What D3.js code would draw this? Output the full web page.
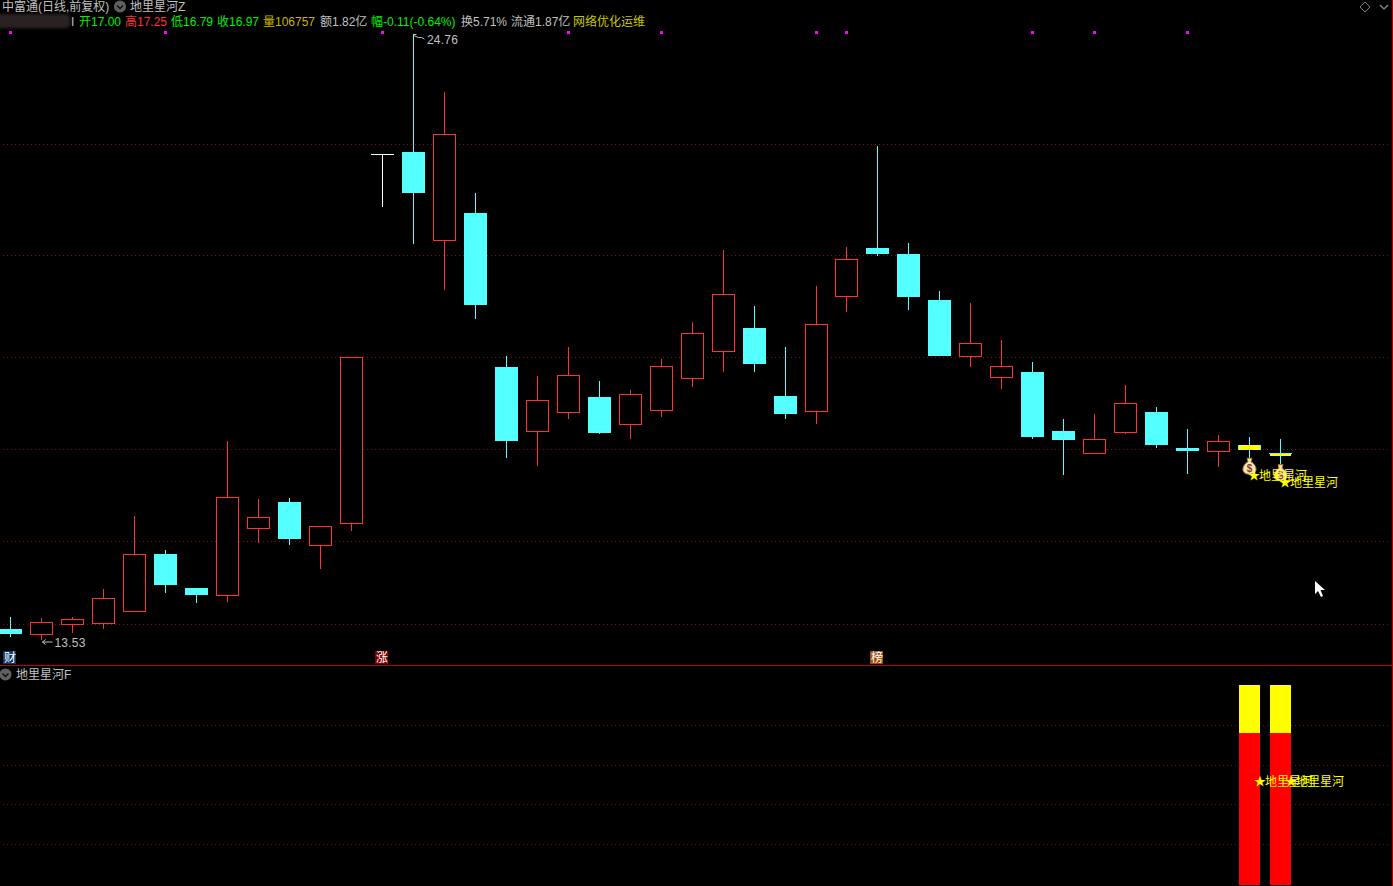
<!DOCTYPE html>
<html><head><meta charset="utf-8">
<script src="https://cdn.jsdelivr.net/npm/d3@7"></script>
<style>html,body{margin:0;padding:0;background:#000;overflow:hidden}svg{display:block}
text{font-family:"Liberation Sans","Noto Sans CJK SC",sans-serif;font-size:12px;dominant-baseline:auto}</style>
</head><body><div id="c"></div>
<script>
const opens =[13.73,13.63,13.82,13.84,14.06,15.12,14.49,14.35,15.60,16.09,15.28,15.69,22.53,22.57,20.93,21.44,18.59,17.39,17.75,18.03,17.52,17.78,18.38,18.88,19.31,18.05,17.76,19.90,20.79,20.68,19.83,18.78,18.39,18.50,17.40,16.99,17.38,17.76,17.09,17.02,17.14,17.00];
const closes=[13.64,13.85,13.91,14.30,15.11,14.55,14.36,16.17,15.80,15.40,15.63,18.77,22.53,21.81,22.90,19.74,17.22,17.97,18.43,17.37,18.08,18.60,19.21,19.93,18.64,17.72,19.38,20.58,20.68,19.89,18.79,19.02,18.60,17.29,17.24,17.25,17.91,17.14,17.03,17.21,17.05,16.97];
const highs =[13.96,13.93,13.96,14.48,15.83,15.20,14.49,17.22,16.14,16.16,15.65,18.77,22.53,24.76,23.69,21.81,18.79,18.42,18.96,18.33,18.16,18.74,19.42,20.76,19.72,18.96,20.09,20.81,22.68,20.89,20.00,19.78,19.09,18.68,17.63,17.72,18.26,17.85,17.44,17.33,17.29,17.25];
const lows  =[13.59,13.53,13.66,13.73,14.06,14.40,14.22,14.23,15.33,15.29,14.85,15.55,21.56,20.87,20.02,19.48,16.90,16.75,17.63,17.35,17.25,17.66,18.22,18.50,18.50,17.63,17.53,19.61,20.65,19.65,18.79,18.59,18.18,17.25,16.59,16.99,17.35,17.09,16.61,16.74,16.77,16.79];
const priceGrid=[22.71,20.66,18.77,17.06,15.36,13.82];
const eventDays=[0,5,12,18,21,26,27,33,35,38];
const signalDays=[40,41];
const bagPrices=[16.75,16.63];
const starPrices=[16.58,16.44];
const signalName="地里星河";
const redBar=[76,76];
const yellowBar=[24,24];
const lowerLabel=[52,52];
const lowerGrid=[20.2,40.2,59.8,79.8];
const maxLabel="24.76", minLabel="13.53";
const headerSegments=[["开17.00",79,"#00f000"],["高17.25",125,"#ff3232"],["低16.79",171,"#00f000"],["收16.97",217,"#00f000"],["量106757",263,"#c8b400"],["额1.82亿",320,"#c0c0c0"],["幅-0.11(-0.64%)",371,"#00f000"],["换5.71%",461,"#c0c0c0"],["流通1.87亿",511,"#c0c0c0"],["网络优化运维",573,"#c8c800"]];
const badges=[["财",0,"#0c3a6c"],["涨",12,"#800000"],["榜",28,"#9c4f10"]];

const RED="#ff3232",CYAN="#54ffff",GOLD="#ffff00",GRAY="#c0c0c0",GRID="#7a1414";
const W=1393,H=886;
const svg=d3.select("#c").append("svg").attr("width",W).attr("height",H).style("background","#000");
const days=d3.range(opens.length);
const xs=d3.scalePoint().domain(days).range([10.9,1280.5]);
const x=i=>Math.floor(xs(i))+0.5;
const yScale=d3.scaleLinear().domain([13.53,24.76]).range([640,34]);
const y=p=>Math.round(yScale(p)-0.5)+0.5;   // nearest pixel centre
const yi=p=>Math.round(yScale(p));          // nearest pixel edge
const y2=d3.scaleLinear().domain([0,100]).range([885,685]);
const crisp=svg.append("g").attr("shape-rendering","crispEdges");

// grids
crisp.selectAll(".g1").data(priceGrid).join("line").attr("class","g1").attr("x1",3).attr("x2",1389).attr("y1",y).attr("y2",y).attr("stroke",GRID).attr("stroke-dasharray","1,3");
crisp.selectAll(".g2").data(lowerGrid).join("line").attr("class","g2").attr("x1",3).attr("x2",1389).attr("y1",d=>Math.floor(y2(d))+0.5).attr("y2",d=>Math.floor(y2(d))+0.5).attr("stroke",GRID).attr("stroke-dasharray","1,3");
// pane frame
crisp.append("line").attr("x1",0).attr("x2",W).attr("y1",665.5).attr("y2",665.5).attr("stroke","#a01010");
crisp.append("line").attr("x1",1392.5).attr("x2",1392.5).attr("y1",0).attr("y2",H).attr("stroke","#b00000");

// magenta event marks
crisp.selectAll(".ev").data(eventDays).join("rect").attr("class","ev").attr("x",d=>x(d)-1.5).attr("y",31).attr("width",3).attr("height",3).attr("fill","#ff00ff");

// candles
const kind=i=>closes[i]>opens[i]?"up":closes[i]<opens[i]?"down":"flat";
const colour=i=>({up:RED,down:CYAN,flat:"#ffffff"})[kind(i)];
crisp.selectAll(".wick").data(days).join("line").attr("class","wick").attr("x1",x).attr("x2",x).attr("y1",i=>yi(highs[i])).attr("y2",i=>yi(lows[i])).attr("stroke",colour);
days.forEach(i=>{
  const hi=Math.max(opens[i],closes[i]),lo=Math.min(opens[i],closes[i]);
  const k=kind(i);
  if(k==="up") crisp.append("rect").attr("x",x(i)-11).attr("y",y(hi)).attr("width",22).attr("height",y(lo)-y(hi)).attr("fill","#000").attr("stroke",RED);
  else if(k==="down") crisp.append("rect").attr("x",x(i)-11.5).attr("y",yi(hi)).attr("width",23).attr("height",Math.max(yi(lo)-yi(hi),1)).attr("fill",CYAN);
  else crisp.append("line").attr("x1",x(i)-11.5).attr("x2",x(i)+11.5).attr("y1",y(hi)).attr("y2",y(hi)).attr("stroke","#ffffff");
});
// signal overlay on candles
signalDays.forEach((i,k)=>{
  const t=yi(opens[i]),b=yi(closes[i]);
  crisp.append("rect").attr("x",x(i)-10.5).attr("y",t+k).attr("width",21).attr("height",b-t+(k?1:0)).attr("fill",GOLD);
});

// lower bars
signalDays.forEach((d,k)=>{
  crisp.append("rect").attr("x",x(d)-10.5).attr("width",21).attr("y",y2(redBar[k])).attr("height",y2(0)-y2(redBar[k])).attr("fill","#ff0000");
  crisp.append("rect").attr("x",x(d)-10.5).attr("width",21).attr("y",y2(redBar[k]+yellowBar[k])).attr("height",y2(redBar[k])-y2(redBar[k]+yellowBar[k])).attr("fill",GOLD);
});

// money bags
signalDays.forEach((d,k)=>{
  const g=svg.append("g").attr("transform",`translate(${x(d)},${yScale(bagPrices[k])})`);
  g.append("path").attr("d","M-2.5,-8 L2.5,-8 L1.5,-4.5 C5,-2.5 7,1 6.5,4 C6,7 3,8 0,8 C-3,8 -6,7 -6.5,4 C-7,1 -5,-2.5 -1.5,-4.5 Z").attr("fill","#f7e7b4").attr("stroke","#b5762a").attr("stroke-width",1);
  g.append("text").attr("text-anchor","middle").attr("y",6).attr("fill","#8a3a2a").style("font-size","10px").style("font-weight","bold").text("$");
});

// star labels: star glyph and name placed next to each other
const starLabel=(cx,cy)=>{
  svg.append("text").attr("x",cx).attr("y",cy+4.5).attr("text-anchor","middle").attr("fill",GOLD).style("font-size","12px").text("★");
  svg.append("text").attr("x",cx+5).attr("y",cy+4.5).attr("fill",GOLD).text(signalName);
};
signalDays.forEach((d,k)=>starLabel(x(d)+4.5,yScale(starPrices[k])));
signalDays.forEach((d,k)=>starLabel(x(d)+10.5,y2(lowerLabel[k])));

// extreme labels
svg.append("path").attr("d",`M${x(13)},${y(24.76)} h3 M${x(13)},${y(24.76)+1} l5,2 l3,0 l3,1.5`).attr("stroke",GRAY).attr("fill","none");
svg.append("text").attr("x",427).attr("y",y(24.76)+9.5).attr("fill",GRAY).style("letter-spacing","0.2px").text(maxLabel);
svg.append("path").attr("d",`M${x(1)+11},${y(13.53)+1.5} h-10 m3,-2.5 l-3,2.5 l3,2.5`).attr("stroke",GRAY).attr("fill","none");
svg.append("text").attr("x",54.5).attr("y",y(13.53)+6.5).attr("fill",GRAY).style("letter-spacing","0.2px").text(minLabel);

// header
svg.append("text").attr("x",2).attr("y",11).attr("fill",GRAY).text("中富通(日线,前复权)");
const chev=(cx,cy)=>{svg.append("circle").attr("cx",cx).attr("cy",cy).attr("r",6).attr("fill","#606060");
  svg.append("path").attr("d",`M${cx-3},${cy-1} L${cx},${cy+2} L${cx+3},${cy-1}`).attr("stroke","#101010").attr("stroke-width",1.4).attr("fill","none");};
chev(120,6.5);
svg.append("text").attr("x",130).attr("y",11).attr("fill",GRAY).text("地里星河Z");
svg.append("path").attr("d","M1365,2 L1370,7 L1365,12 L1360,7 Z").attr("fill","none").attr("stroke","#808080");
svg.append("path").attr("d","M1380,5 L1384,9 L1388,5").attr("fill","none").attr("stroke","#909090").attr("stroke-width",1.2);
const defs=svg.append("defs");
defs.append("filter").attr("id","bl").append("feGaussianBlur").attr("stdDeviation",1.5);
svg.append("rect").attr("x",-6).attr("y",14).attr("width",76).attr("height",14).attr("rx",4).attr("fill","#2b2222").attr("filter","url(#bl)");
svg.append("text").attr("x",71).attr("y",26).attr("fill",GRAY).text("I");
svg.selectAll(".hs").data(headerSegments).join("text").attr("class","hs").attr("x",d=>d[1]).attr("y",26).attr("fill",d=>d[2]).text(d=>d[0]);

// badges
badges.forEach(([t,i,c])=>{
  const cx=x(i)-1;
  crisp.append("rect").attr("x",Math.floor(cx)-6).attr("y",651).attr("width",13).attr("height",13).attr("fill",c);
  svg.append("text").attr("x",cx+0.5).attr("y",662).attr("text-anchor","middle").attr("fill","#ffffff").text(t);
});

// lower pane title
chev(5.5,674.5);
svg.append("text").attr("x",16).attr("y",679).attr("fill",GRAY).text("地里星河F");

// mouse pointer
svg.append("path").attr("d","M1315,581 L1315,594 L1318,591 L1321,597 L1323,596 L1320.5,590 L1325,590 Z").attr("fill","#ffffff");
</script></body></html>
